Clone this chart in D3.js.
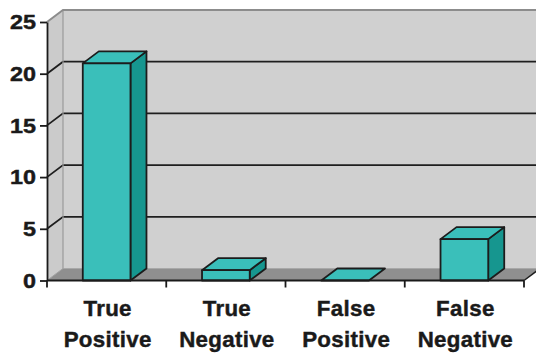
<!DOCTYPE html>
<html>
<head>
<meta charset="utf-8">
<script src="https://cdn.jsdelivr.net/npm/d3@7"></script>
<style>
  html, body { margin: 0; padding: 0; background: #fff; }
  svg { display: block; }
  text { font-family: "Liberation Sans", Arial, Helvetica, sans-serif; font-weight: bold; fill: #1a1a1a; stroke: #1a1a1a; stroke-width: 0.45px; }
</style>
</head>
<body>
<svg id="chart" width="536" height="353"></svg>
<script>
const categories = ["True Positive", "True Negative", "False Positive", "False Negative"];
const values = [21, 1, 0, 4];
const yTicks = [0, 5, 10, 15, 20, 25];

const W = 536, H = 353;
const DX = 16, DY = -12;           // 3D depth offset
const svg = d3.select("#chart");

const x = d3.scaleBand().domain(categories).range([47, 524]).paddingInner(0).paddingOuter(0);
const y = d3.scaleLinear().domain([0, 25]).range([280.5, 22]);
const barW = 47.7;
const barOff = (x.bandwidth() - barW) / 2;

const poly = pts => "M" + pts.map(p => p.join(",")).join("L") + "Z";

const x0 = x.range()[0], x1 = x.range()[1];
const yTop = y(25), yBot = y(0);

// back wall
svg.append("rect")
  .attr("x", x0 + DX).attr("y", yTop + DY)
  .attr("width", W - (x0 + DX) + 20).attr("height", yBot - yTop)
  .attr("fill", "#d0d0d0");

// left side wall
svg.append("path")
  .attr("d", poly([[x0, yTop], [x0 + DX, yTop + DY], [x0 + DX, yBot + DY], [x0, yBot]]))
  .attr("fill", "#cbcbcb");

// floor
svg.append("path")
  .attr("d", poly([[x0, yBot], [x1, yBot], [x1 + DX, yBot + DY], [x0 + DX, yBot + DY]]))
  .attr("fill", "#8f8f8f");

// floor back edge
svg.append("line")
  .attr("x1", x0 + DX).attr("x2", x1 + DX)
  .attr("y1", yBot + DY).attr("y2", yBot + DY)
  .attr("stroke", "#a8a8a8").attr("stroke-width", 1);

// left wall bottom diagonal
svg.append("line")
  .attr("x1", x0).attr("y1", yBot).attr("x2", x0 + DX).attr("y2", yBot + DY)
  .attr("stroke", "#a0a0a0").attr("stroke-width", 1);

// gridlines (interior ticks)
const gridVals = yTicks.filter(v => v > 0 && v < 25);
const grid = svg.append("g").attr("stroke", "#1e1e1e").attr("stroke-width", 1.8).attr("fill", "none");
grid.selectAll("path.g").data(gridVals).join("path")
  .attr("d", v => `M${x0},${y(v)}L${x0 + DX},${y(v) + DY}L${W + 5},${y(v) + DY}`);

// wall borders (top and corner)
svg.append("line")
  .attr("x1", x0 + DX).attr("x2", x0 + DX)
  .attr("y1", yTop + DY).attr("y2", yBot + DY)
  .attr("stroke", "#9a9a9a").attr("stroke-width", 1.2);
svg.append("path")
  .attr("d", `M${x0},${yTop}L${x0 + DX},${yTop + DY}L${W + 5},${yTop + DY}`)
  .attr("fill", "none").attr("stroke", "#8c8c8c").attr("stroke-width", 2);

// floor right edge
svg.append("line")
  .attr("x1", x1).attr("y1", yBot).attr("x2", x1 + DX).attr("y2", yBot + DY)
  .attr("stroke", "#1e1e1e").attr("stroke-width", 1.5);

// bars
const bars = svg.append("g").attr("stroke", "#1c1c1c").attr("stroke-width", 1.8).attr("stroke-linejoin", "round");
categories.forEach((c, i) => {
  const bx = x(c) + barOff, bx2 = bx + barW;
  const by = y(values[i]);
  const g = bars.append("g");
  if (values[i] > 0) {
    g.append("path")
      .attr("d", poly([[bx2, by], [bx2 + DX, by + DY], [bx2 + DX, yBot + DY], [bx2, yBot]]))
      .attr("fill", "#16968f");
  }
  g.append("path")
    .attr("d", poly([[bx, by], [bx + DX, by + DY], [bx2 + DX, by + DY], [bx2, by]]))
    .attr("fill", "#3abfba");
  if (values[i] > 0) {
    g.append("rect")
      .attr("x", bx).attr("y", by).attr("width", barW).attr("height", yBot - by)
      .attr("fill", "#3abfba");
  }
});

// Y axis
const yAxis = d3.axisLeft(y).tickValues(yTicks).tickSize(7).tickSizeOuter(0).tickFormat("");
const ya = svg.append("g").attr("transform", `translate(${x0},0)`).call(yAxis);
ya.select(".domain").attr("stroke", "#1a1a1a").attr("stroke-width", 1.8);
ya.selectAll(".tick line").attr("stroke", "#1a1a1a").attr("stroke-width", 1.8);
svg.append("g").selectAll("g.ylab").data(yTicks).join("g")
  .attr("transform", v => `translate(36,${y(v)}) scale(1.14,1)`)
  .append("text")
  .attr("text-anchor", "end").attr("dy", "0.36em")
  .attr("font-size", 20.5)
  .text(v => v);

// X axis line and ticks at band boundaries
svg.append("line")
  .attr("x1", x0).attr("x2", x1).attr("y1", yBot).attr("y2", yBot)
  .attr("stroke", "#1a1a1a").attr("stroke-width", 1.8);
const bounds = categories.map(c => x(c)).concat([x1]);
svg.append("g").selectAll("line").data(bounds).join("line")
  .attr("x1", d => d).attr("x2", d => d)
  .attr("y1", yBot).attr("y2", yBot + 7)
  .attr("stroke", "#1a1a1a").attr("stroke-width", 1.8);

// X labels
const xl = svg.append("g").selectAll("text").data(categories).join("text")
  .attr("text-anchor", "middle")
  .attr("font-size", 22.3)
  .attr("letter-spacing", 0.3)
  .attr("transform", c => `translate(${x(c) + x.bandwidth() / 2 + 1},0)`);
xl.each(function (c) {
  const parts = c.split(" ");
  const t = d3.select(this);
  t.append("tspan").attr("x", 0).attr("y", 315.7).text(parts[0]);
  t.append("tspan").attr("x", 0).attr("y", 346.7).text(parts[1]);
});
</script>
</body>
</html>
